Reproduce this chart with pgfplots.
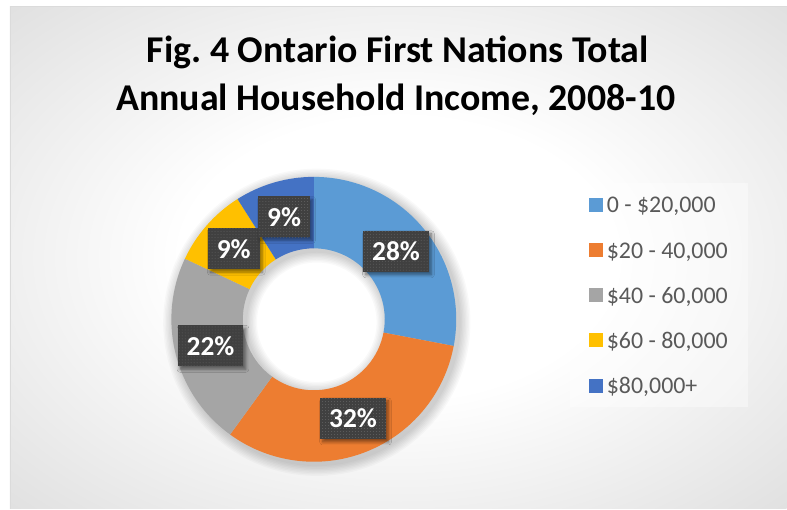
\documentclass[border=0pt]{standalone}
\usepackage{fontspec}
\setmainfont{Carlito}
\usepackage{pgfplots}
\usepackage{pgfplotstable}
\pgfplotsset{compat=1.18}
\usetikzlibrary{patterns,shadows.blur}
\frenchspacing

\definecolor{sA}{HTML}{5B9BD5}
\definecolor{sB}{HTML}{ED7D31}
\definecolor{sC}{HTML}{A5A5A5}
\definecolor{sD}{HTML}{FFC000}
\definecolor{sE}{HTML}{4472C4}
\definecolor{lblbox}{HTML}{404040}
\definecolor{legtext}{HTML}{595959}

\pgfdeclareradialshading{bgshade}{\pgfpoint{0bp}{0bp}}{color(0bp)=(white); color(14bp)=(white); color(50bp)=(black!20); color(72bp)=(black!27)}

% share of households (%), slices clockwise from 12 o'clock
\pgfplotstableread{
share color
28 sA
32 sB
22 sC
9  sD
9  sE
}\incomedata

\begin{document}
\begin{tikzpicture}[x=1bp,y=1bp]
\fill[white] (0,0) rectangle (787,509);
\shade[shading=bgshade] (10,0) rectangle (787,502);
\draw[black!14, line width=1bp] (10.5,0) -- (10.5,502.5) -- (787,502.5);

\begin{axis}[
    at={(0,0)}, anchor=origin,
    x=1bp, y=1bp, scale only axis,
    xmin=0, xmax=787, ymin=0, ymax=509,
    hide axis, clip=false,
]
\pgfplotsextra{
    \coordinate (O) at (axis cs:314,189.5);
    \coordinate (S) at (axis cs:317,186.5);
    % soft shadow of the ring
    \foreach \k in {1,...,8}{
        \fill[black, opacity=0.022, even odd rule]
            (S) circle[radius={142.5bp+\k*1.4bp}] (S) circle[radius={71bp-\k*1.4bp}];
    }
    % slices
    \gdef\acc{0}
    \foreach \i in {0,...,4}{
        \pgfplotstablegetelem{\i}{share}\of\incomedata
        \let\v\pgfplotsretval
        \pgfplotstablegetelem{\i}{color}\of\incomedata
        \edef\c{\pgfplotsretval}
        \pgfmathsetmacro\aa{90-3.6*\acc}
        \pgfmathsetmacro\ab{90-3.6*(\acc+\v)}
        \fill[\c] (O) ++(\aa:142.5bp) arc[start angle=\aa, end angle=\ab, radius=142.5bp]
            -- ++(\ab+180:71.5bp) arc[start angle=\ab, end angle=\aa, radius=71bp] -- cycle;
        \pgfmathsetmacro\na{\acc+\v}
        \xdef\acc{\na}
    }
    % data labels
    \gdef\acc{0}
    \foreach \i in {0,...,4}{
        \pgfplotstablegetelem{\i}{share}\of\incomedata
        \let\v\pgfplotsretval
        \pgfmathsetmacro\am{90-3.6*(\acc+\v/2)}
        \path (O) ++(\am:106.75bp) node[fill=lblbox, text=white,
            font=\bfseries\fontsize{27.5}{32}\selectfont,
            minimum height=41bp, inner xsep=9bp, inner ysep=0pt,
            blur shadow={shadow xshift=2.5bp, shadow yshift=-3bp, shadow blur radius=3bp, shadow blur steps=6, shadow opacity=45},
            postaction={pattern=dots, pattern color=black!62}] {\v\%};
        \pgfmathsetmacro\na{\acc+\v}
        \xdef\acc{\na}
    }
    % title
    \node[anchor=base, font=\bfseries\fontsize{38}{44}\selectfont] at (axis cs:398,446) {Fig. 4 Ontario First Nations Total};
    \node[anchor=base, font=\bfseries\fontsize{38}{44}\selectfont] at (axis cs:396,398) {Annual Household Income, 2008-10};
    % legend
    \fill[white, opacity=0.4] (axis cs:570,102) rectangle (axis cs:748,326);
    \foreach \n [count=\k from 0] in {{0 - \$20,000},{\$20 - 40,000},{\$40 - 60,000},{\$60 - 80,000},{\$80,000+}}{
        \pgfplotstablegetelem{\k}{color}\of\incomedata
        \edef\c{\pgfplotsretval}
        \pgfmathsetmacro\yy{304-45.2*\k}
        \fill[\c] (axis cs:589,\yy-7) rectangle (axis cs:603,\yy+7);
        \node[anchor=base west, inner sep=0pt, text=legtext, font=\fontsize{24}{29}\selectfont] at (axis cs:607,\yy-8) {\n};
    }
}
\end{axis}
\end{tikzpicture}
\end{document}
